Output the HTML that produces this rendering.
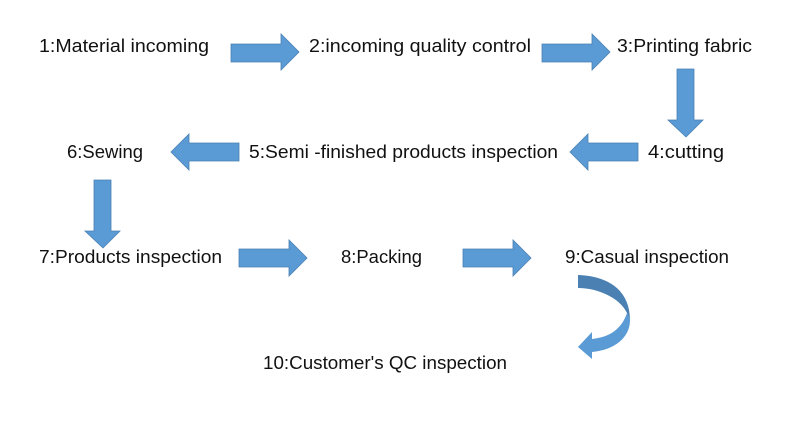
<!DOCTYPE html>
<html>
<head>
<meta charset="utf-8">
<style>
html,body{margin:0;padding:0;background:#fff;width:810px;height:442px;overflow:hidden}
svg{display:block}
text{font-family:"Liberation Sans",sans-serif;font-size:18.5px;fill:#111}
.a{fill:#5b9bd5;stroke:#4a80b2;stroke-width:.8}
</style>
</head>
<body>
<svg width="810" height="442" viewBox="0 0 810 442" xmlns="http://www.w3.org/2000/svg">
<text x="39" y="52" textLength="170" lengthAdjust="spacingAndGlyphs">1:Material incoming</text>
<text x="309" y="52" textLength="222" lengthAdjust="spacingAndGlyphs">2:incoming quality control</text>
<text x="617" y="52" textLength="135" lengthAdjust="spacingAndGlyphs">3:Printing fabric</text>
<text x="648" y="158" textLength="76" lengthAdjust="spacingAndGlyphs">4:cutting</text>
<text x="249" y="158" textLength="309" lengthAdjust="spacingAndGlyphs">5:Semi -finished products inspection</text>
<text x="67" y="158" textLength="76" lengthAdjust="spacingAndGlyphs">6:Sewing</text>
<text x="39" y="263" textLength="183" lengthAdjust="spacingAndGlyphs">7:Products inspection</text>
<text x="341" y="263" textLength="81" lengthAdjust="spacingAndGlyphs">8:Packing</text>
<text x="565" y="263" textLength="164" lengthAdjust="spacingAndGlyphs">9:Casual inspection</text>
<text x="263" y="369" textLength="244" lengthAdjust="spacingAndGlyphs">10:Customer's QC inspection</text>

<polygon class="a" points="231,44 281,44 281,34 299,52 281,70 281,62 231,62"/>
<polygon class="a" points="542,44 592,44 592,34 610,52 592,70 592,62 542,62"/>
<polygon class="a" points="677,69 694,69 694,120 703,120 686,137 668,120 677,120"/>
<polygon class="a" points="638,143 588,143 588,134 570,152 588,170 588,161 638,161"/>
<polygon class="a" points="239,143 189,143 189,134 171,152 189,170 189,161 239,161"/>
<polygon class="a" points="94,180 111,180 111,231 120,231 103,248 85,231 94,231"/>
<polygon class="a" points="239,249 289,249 289,240 307,258 289,276 289,267 239,267"/>
<polygon class="a" points="463,249 513,249 513,240 531,258 513,276 513,267 463,267"/>

<path d="M627,313 C622,328 611,337 592,339 L592,332 L578,347 L592,359 L592,352 C614,350 630,338 630,320 Z" fill="#5b9bd5"/>
<path d="M578,275 C608,276 630,290 630,320 L627,313 C620,298 598,288 578,288 Z" fill="#4a80b2"/>
</svg>
</body>
</html>
